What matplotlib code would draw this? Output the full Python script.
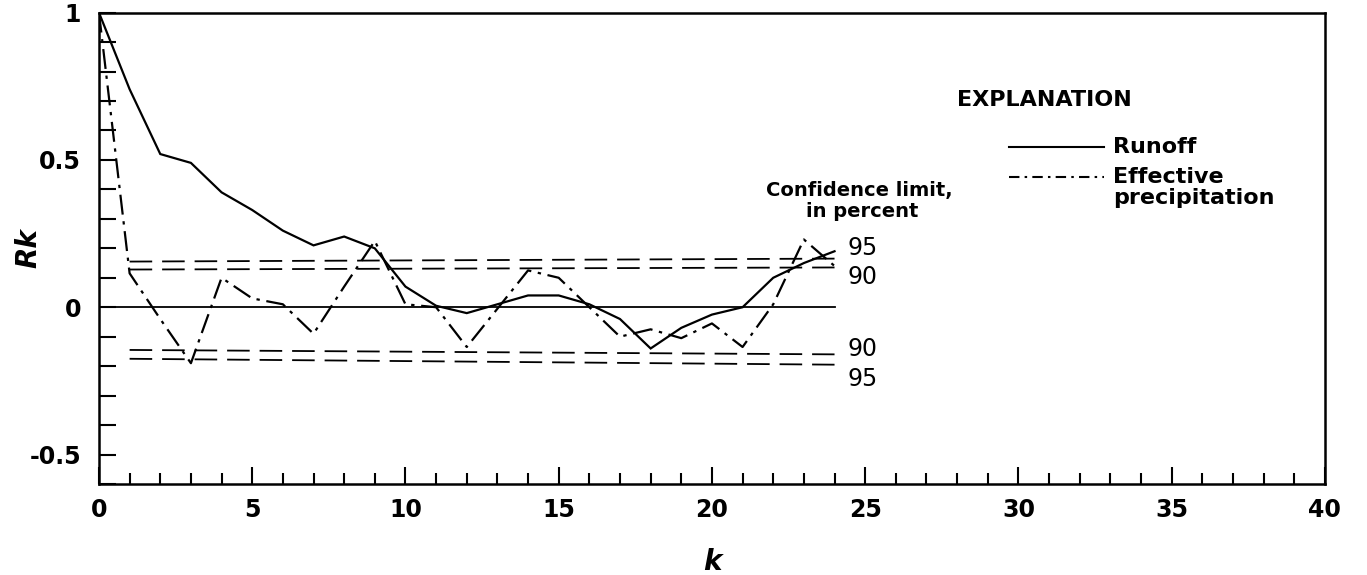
# autocorrelation of runoff and effective precipitation

import matplotlib
matplotlib.use('Agg')
import matplotlib.pyplot as plt
from matplotlib.ticker import MultipleLocator, FixedLocator
from matplotlib.lines import Line2D

plt.rcParams['font.family'] = ['DejaVu Sans']
plt.rcParams['font.weight'] = 'bold'

# lag k
k = list(range(0, 25))
# autocorrelation coefficient Rk
runoff = [1.0, 0.74, 0.52, 0.49, 0.39, 0.33, 0.26, 0.21, 0.24, 0.20, 0.07, 0.005, -0.02,
          0.01, 0.04, 0.04, 0.01, -0.04, -0.14, -0.07, -0.025, 0.0, 0.10, 0.15, 0.19]
precip = [1.0, 0.115, -0.04, -0.19, 0.10, 0.03, 0.01, -0.09, 0.07, 0.225, 0.01, 0.0, -0.135,
          -0.005, 0.125, 0.10, 0.0, -0.10, -0.075, -0.105, -0.055, -0.135, 0.01, 0.23, 0.14]

# confidence limits (values at k=1 and k=24)
conf_k = [1, 24]
upper95 = [0.155, 0.165]
upper90 = [0.128, 0.135]
lower90 = [-0.145, -0.16]
lower95 = [-0.175, -0.195]

fig = plt.figure(figsize=(13.67, 5.75), dpi=100)
ax = fig.add_axes([0.0724, 0.1583, 0.8968, 0.8197])

ax.plot(k, runoff, color='black', lw=1.6, solid_joinstyle='miter')
ax.plot(k, precip, color='black', lw=1.6, dashes=(9, 3, 1.5, 3))
ax.plot([k[0], k[-1]], [0, 0], color='black', lw=1.3)

for lim in (upper95, upper90, lower90, lower95):
    ax.plot(conf_k, lim, color='black', lw=1.3, dashes=(12.5, 5.5))

# labels for the confidence limits
lab_kw = dict(fontsize=17, fontweight='normal', va='center', ha='left',
              textcoords='offset points')
ax.annotate('95', (conf_k[-1], upper95[-1]), xytext=(9, 8), **lab_kw)
ax.annotate('90', (conf_k[-1], upper90[-1]), xytext=(9, -7), **lab_kw)
ax.annotate('90', (conf_k[-1], lower90[-1]), xytext=(9, 4), **lab_kw)
ax.annotate('95', (conf_k[-1], lower95[-1]), xytext=(9, -10), **lab_kw)
ax.text(24.8, 0.395, 'Confidence limit,', fontsize=14, ha='center', va='center')
ax.text(24.9, 0.325, 'in percent', fontsize=14, ha='center', va='center')

# explanation block
tr = ax.transAxes
ax.text(0.700, 0.815, 'EXPLANATION', transform=tr, fontsize=16, va='center')
ax.add_line(Line2D([0.742, 0.820], [0.715, 0.715], transform=tr, color='black', lw=1.5))
ax.text(0.827, 0.715, 'Runoff', transform=tr, fontsize=16, va='center')
ax.add_line(Line2D([0.742, 0.820], [0.652, 0.652], transform=tr, color='black', lw=1.5,
                   dashes=(5, 2.5, 1.2, 2.5)))
ax.text(0.827, 0.652, 'Effective', transform=tr, fontsize=16, va='center')
ax.text(0.827, 0.606, 'precipitation', transform=tr, fontsize=16, va='center')

ax.set_xlim(0, 40)
ax.set_ylim(-0.6, 1.0)
ax.xaxis.set_major_locator(MultipleLocator(5))
ax.xaxis.set_minor_locator(MultipleLocator(1))
ax.yaxis.set_major_locator(FixedLocator([-0.5, 0, 0.5, 1.0]))
ax.yaxis.set_minor_locator(MultipleLocator(0.1))
ax.set_yticklabels(['-0.5', '0', '0.5', '1'])

ax.tick_params(axis='x', which='major', direction='in', length=12, width=1.5,
               labelsize=17, pad=10, top=False)
ax.tick_params(axis='x', which='minor', direction='in', length=8, width=1.5, top=False)
ax.tick_params(axis='y', which='both', direction='in', length=12, width=1.5,
               labelsize=17, pad=13, right=False)

for s in ax.spines.values():
    s.set_linewidth(1.8)

ax.set_xlabel('k', fontsize=20, style='italic', fontweight='bold')
ax.set_ylabel('Rk', fontsize=20, style='italic', fontweight='bold')
ax.xaxis.set_label_coords(0.5, -0.135)
ax.yaxis.set_label_coords(-0.046, 0.5)

fig.savefig('out.png', dpi=100)
